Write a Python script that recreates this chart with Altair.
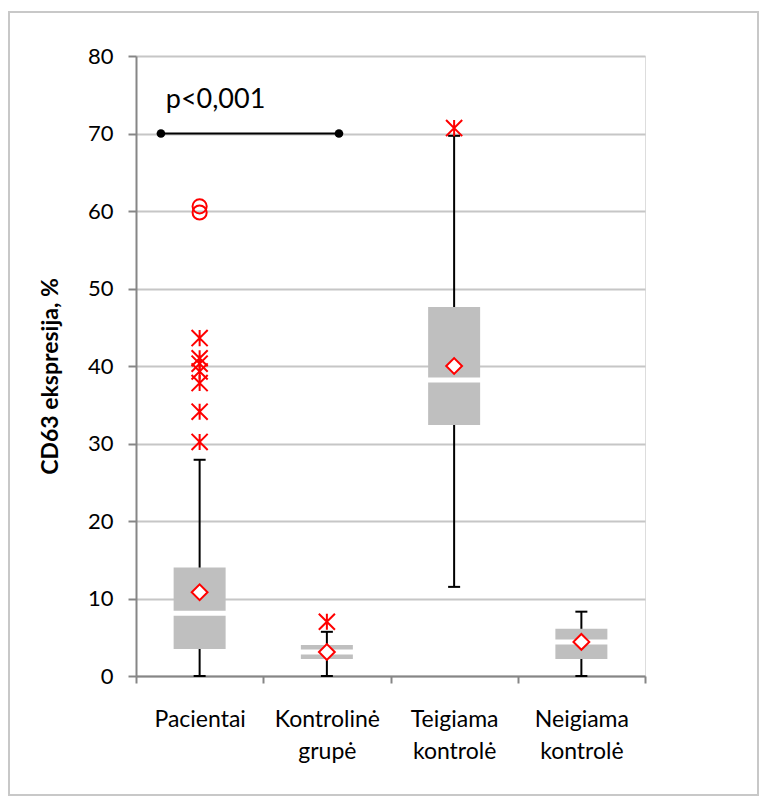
import altair as alt
import pandas as pd

# ---- data ----
categories = ["Pacientai", "Kontrolinė grupė", "Teigiama kontrolė", "Neigiama kontrolė"]
whisk_lo = [0.0, 0.0, 11.5, 0.0]
q1 = [3.5, 2.2, 32.4, 2.2]
median = [8.1, 3.1, 38.2, 4.4]
q3 = [14.0, 4.0, 47.6, 6.1]
whisk_hi = [27.9, 5.7, 69.7, 8.3]
mean = [10.8, 3.1, 40.0, 4.4]

star_cats = ["Pacientai"] * 7 + ["Kontrolinė grupė", "Teigiama kontrolė"]
star_vals = [43.6, 41.0, 40.3, 39.3, 37.8, 34.1, 30.2, 7.0, 70.7]

circle_cats = ["Pacientai", "Pacientai"]
circle_vals = [60.6, 59.8]

bracket_x = [0.196, 1.595]  # position in category units (0..4)
bracket_y = [70.0, 70.0]
p_text = ["p<0,001"]
p_x = [0.625]
p_y = [73.3]

y_ticks = [0, 10, 20, 30, 40, 50, 60, 70, 80]

FONT = "Lato"
RED = "#ff0000"
GRAY_BOX = "#bfbfbf"
AXIS_GRAY = "#868686"

box_df = pd.DataFrame({"cat": categories, "lo": whisk_lo, "q1": q1, "med": median,
                       "q3": q3, "hi": whisk_hi, "mean": mean})
star_df = pd.DataFrame({"cat": star_cats, "v": star_vals})
circ_df = pd.DataFrame({"cat": circle_cats, "v": circle_vals})
br_df = pd.DataFrame({"bx": bracket_x, "by": bracket_y})
txt_df = pd.DataFrame({"t": p_text, "tx": p_x, "ty": p_y})

y_scale = alt.Scale(domain=[0, 80], nice=False, zero=True)
y_axis = alt.Axis(values=y_ticks, grid=True, gridColor="#c6c6c6", gridWidth=2,
                  domainColor=AXIS_GRAY, domainWidth=2, tickColor=AXIS_GRAY,
                  tickSize=8, tickWidth=2, labelFontSize=22, labelFont=FONT,
                  labelColor="black", labelPadding=15, titleFont=FONT,
                  titleFontSize=23, titleFontWeight="bold", titleColor="black",
                  titlePadding=25, titleY=320, zindex=0)
Y_TITLE = "CD63 ekspresija, %"


def Y(field):
    return alt.Y(field, type="quantitative", scale=y_scale, axis=y_axis, title=Y_TITLE)


x_enc = alt.X("cat:N", sort=categories,
              scale=alt.Scale(paddingInner=0, paddingOuter=0),
              axis=alt.Axis(title=None, labelAngle=0, tickBand="extent",
                            labelExpr="split(datum.label, ' ')",
                            domainColor=AXIS_GRAY, domainWidth=2,
                            tickColor=AXIS_GRAY, tickSize=7, tickWidth=2,
                            labelFont=FONT, labelFontSize=23, labelColor="black",
                            labelPadding=25, labelLineHeight=32, zindex=0))

whisker = alt.Chart(box_df).mark_rule(color="black", strokeWidth=2).encode(
    x=x_enc, y=Y("lo"), y2="hi")
cap_lo = alt.Chart(box_df).mark_tick(color="black", thickness=2, size=12, opacity=1).encode(
    x=x_enc, y=Y("lo"))
cap_hi = alt.Chart(box_df).mark_tick(color="black", thickness=2, size=12, opacity=1).encode(
    x=x_enc, y=Y("hi"))
box = alt.Chart(box_df).mark_bar(color=GRAY_BOX, size=52).encode(
    x=x_enc, y=Y("q1"), y2="q3")
med = alt.Chart(box_df).mark_tick(color="white", thickness=5, size=54, opacity=1).encode(
    x=x_enc, y=Y("med"))
mean_pt = alt.Chart(box_df).mark_point(shape="diamond", filled=True, fill="white",
                                       stroke=RED, strokeWidth=2, size=250,
                                       opacity=1).encode(x=x_enc, y=Y("mean"))
stars = alt.Chart(star_df).mark_point(shape="M-1,-1L1,1M-1,1L1,-1M0,-1L0,1",
                                      filled=False, color=RED, strokeWidth=2,
                                      size=260, opacity=1).encode(x=x_enc, y=Y("v"))
circles = alt.Chart(circ_df).mark_point(shape="circle", filled=False, color=RED,
                                        strokeWidth=2, size=200, opacity=1).encode(
    x=x_enc, y=Y("v"))

inner = alt.layer(whisker, box, med, cap_lo, cap_hi, stars, circles, mean_pt)

bx = alt.X("bx:Q", scale=alt.Scale(domain=[0, 4], nice=False, zero=True), axis=None)
br_line = alt.Chart(br_df).mark_line(color="black", strokeWidth=2).encode(x=bx, y=Y("by"))
br_dots = alt.Chart(br_df).mark_point(filled=True, color="black", size=75, opacity=1).encode(
    x=bx, y=Y("by"))
p_lbl = alt.Chart(txt_df).mark_text(font=FONT, fontSize=27, color="black",
                                    align="center", baseline="alphabetic").encode(
    x=alt.X("tx:Q", scale=alt.Scale(domain=[0, 4], nice=False, zero=True), axis=None),
    y=Y("ty"), text="t:N")
frame = alt.Chart(pd.DataFrame({"a": [0]})).mark_rect(
    fillOpacity=0, stroke="#c8c8c8", strokeWidth=2).encode(
    x=alt.value(-127), x2=alt.value(622), y=alt.value(-44), y2=alt.value(739))

bracket = alt.layer(frame, br_line, br_dots, p_lbl)

chart = alt.layer(inner, bracket).resolve_scale(x="independent").properties(
    width=509, height=620,
    autosize=alt.AutoSizeParams(type="none"),
    padding={"left": 128, "top": 48, "right": 115, "bottom": 120},
).configure_view(stroke="black", strokeWidth=2).configure(background="white")

chart.save("out.html", embed_options={"renderer": "svg", "actions": False})
